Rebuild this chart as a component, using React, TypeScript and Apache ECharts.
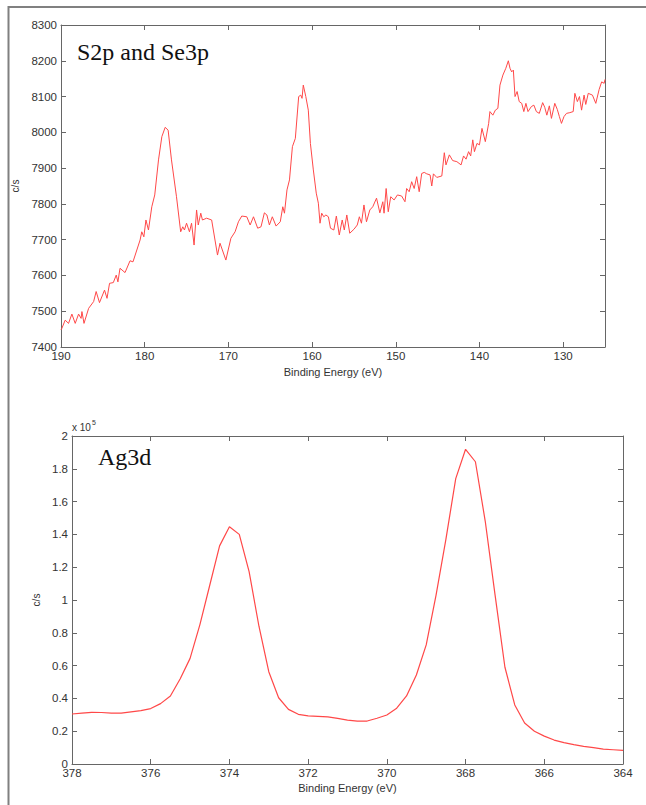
import React, { useEffect, useRef } from "react";
import * as echarts from "echarts";

// Top panel: S2p and Se3p (binding energy eV, counts/s)
const topEnergy = [
  190.0, 189.9, 189.5, 189.1, 188.7, 188.3, 187.9, 187.6, 187.5, 187.25, 186.7, 186.1, 185.8, 185.4,
  184.8, 184.5, 184.2, 183.75, 183.4, 183.2, 182.95, 182.35, 181.75, 181.4, 180.55, 180.35, 180.1,
  179.85, 179.55, 179.15, 178.8, 178.35, 177.95, 177.55, 177.2, 176.8, 176.2, 175.7, 175.45, 175.25,
  175.0, 174.65, 174.4, 174.1, 173.8, 173.6, 173.3, 173.1, 172.6, 172.0, 171.3, 171.0, 170.3, 169.7,
  169.2, 168.8, 168.4, 167.8, 167.4, 167.0, 166.5, 166.1, 165.7, 165.4, 165.1, 164.75, 164.3, 163.8,
  163.5, 163.3, 163.0, 162.7, 162.35, 162.0, 161.6, 161.35, 161.2, 161.05, 160.75, 160.45, 160.2,
  159.85, 159.5, 159.25, 159.05, 158.85, 158.6, 158.35, 158.05, 157.8, 157.4, 157.1, 156.75, 156.4,
  156.15, 155.85, 155.5, 155.0, 154.6, 154.35, 154.1, 153.8, 153.5, 153.1, 152.75, 152.3, 151.9,
  151.55, 151.4, 151.15, 150.9, 150.6, 150.2, 149.8, 149.3, 148.9, 148.7, 148.4, 148.1, 147.8, 147.5,
  147.2, 146.9, 146.6, 146.3, 145.9, 145.7, 145.5, 145.1, 144.5, 144.2, 144.0, 143.6, 143.2, 142.7,
  142.2, 141.9, 141.6, 141.3, 141.05, 140.8, 140.6, 140.3, 140.0, 139.7, 139.3, 138.9, 138.75, 138.4,
  138.1, 137.8, 137.55, 137.2, 136.85, 136.55, 136.35, 136.15, 135.95, 135.75, 135.5, 135.25, 134.95,
  134.7, 134.45, 134.2, 133.8, 133.5, 133.2, 132.85, 132.45, 132.2, 131.95, 131.65, 131.4, 131.0,
  130.7, 130.45, 130.2, 129.9, 129.6, 129.2, 128.8, 128.6, 128.3, 128.05, 127.8, 127.5, 127.3, 127.0,
  126.5, 126.1, 125.7, 125.4, 125.1, 125.0,
];
const topCounts = [
  7448, 7452, 7475, 7466, 7492, 7466, 7492, 7480, 7499, 7466, 7508, 7527, 7555, 7524,
  7559, 7536, 7578, 7580, 7601, 7582, 7620, 7608, 7641, 7638, 7699, 7722, 7708,
  7755, 7727, 7792, 7825, 7923, 7988, 8014, 8006, 7923, 7820, 7722, 7736, 7727,
  7746, 7722, 7746, 7685, 7783, 7741, 7774, 7755, 7760, 7755, 7657, 7690, 7643, 7704,
  7722, 7750, 7766, 7764, 7741, 7764, 7732, 7736, 7775, 7769, 7741, 7764, 7738, 7750,
  7792, 7774, 7839, 7867, 7960, 7983, 8100, 8104, 8095, 8132, 8100, 8062, 7969,
  7895, 7830, 7802, 7746, 7774, 7764, 7769, 7764, 7732, 7727, 7766, 7713, 7755,
  7727, 7769, 7718, 7729, 7741, 7764, 7746, 7797, 7750, 7783, 7792, 7816, 7775,
  7806, 7774, 7843, 7778, 7820, 7811, 7825, 7822, 7806, 7843, 7834, 7862, 7843, 7876,
  7834, 7885, 7888, 7884, 7881, 7850, 7884, 7874, 7878, 7943, 7909, 7937, 7921, 7918,
  7909, 7934, 7925, 7946, 7934, 7979, 7946, 7969, 7965, 8011, 7974, 8025, 8058, 8048,
  8062, 8067, 8132, 8160, 8179, 8200, 8179, 8169, 8174, 8100, 8114, 8086, 8081,
  8058, 8081, 8058, 8072, 8076, 8058, 8053, 8083, 8070, 8048, 8074, 8039, 8081,
  8064, 8044, 8025, 8044, 8053, 8055, 8058, 8109, 8086, 8100, 8062, 8104, 8078, 8109,
  8104, 8081, 8120, 8141, 8137, 8148,
];

// Bottom panel: Ag3d (binding energy eV, counts/s)
const botEnergy = [
  378, 377.75, 377.5, 377.25, 377, 376.75, 376.5, 376.25, 376, 375.75, 375.5, 375.25, 375, 374.75,
  374.5, 374.25, 374, 373.75, 373.5, 373.25, 373, 372.75, 372.5, 372.25, 372, 371.75, 371.5, 371.25,
  371, 370.75, 370.5, 370.25, 370, 369.75, 369.5, 369.25, 369, 368.75, 368.5, 368.25, 368, 367.75,
  367.5, 367.25, 367, 366.75, 366.5, 366.25, 366, 365.75, 365.5, 365.25, 365, 364.75, 364.5, 364.25,
  364,
];
const botCounts = [
  30500, 31000, 31500, 31400, 31000, 31000, 31800, 32500, 33800, 36800, 41500, 52000, 64400, 85000,
  109000, 133000, 144700, 140000, 117300, 84000, 56300, 40400, 33300, 30300, 29300, 29000, 28700, 27800,
  26800, 26200, 26200, 27900, 29900, 34000, 41500, 54300, 72600, 103000, 137000, 174000, 191900, 184300,
  148000, 103000, 59000, 36000, 25000, 20000, 17000, 14600, 13000, 11800, 10800, 10000, 9100, 8700,
  8300,
];

const topXTicks = { min: -190, max: -125, interval: 10 };
const topYTicks = { min: 7400, max: 8300, interval: 100 };
const botXTicks = { min: -378, max: -364, interval: 2 };
const botYTicks = { min: 0, max: 200000, interval: 20000 };

const AXIS_COLOR = "#666";
const LABEL_COLOR = "#333";
const SANS = "'Liberation Sans', Arial, Helvetica, sans-serif";
const SERIF = "'Liberation Serif', 'Times New Roman', serif";
const LINE_COLOR = "#ff4848";

function mainX(gridIndex: number, t: any, nameGap: number, showMax: boolean) {
  return {
    type: "value",
    gridIndex,
    position: "bottom",
    min: t.min,
    max: t.max,
    interval: t.interval,
    name: "Binding Energy (eV)",
    nameLocation: "middle",
    nameGap,
    nameTextStyle: { color: LABEL_COLOR, fontSize: 11, fontFamily: SANS },
    axisLine: { show: true, lineStyle: { color: AXIS_COLOR, width: 1 } },
    axisTick: { show: true, inside: true, length: 5, lineStyle: { color: AXIS_COLOR } },
    axisLabel: {
      color: LABEL_COLOR,
      fontSize: 11.5,
      fontFamily: SANS,
      margin: 3,
      showMaxLabel: showMax,
      formatter: (v: number) => (Math.round(-v) % t.interval === 0 ? String(Math.round(-v)) : ""),
    },
    splitLine: { show: false },
  };
}
function mirrorX(gridIndex: number, t: any) {
  return {
    type: "value",
    gridIndex,
    position: "top",
    min: t.min,
    max: t.max,
    interval: t.interval,
    axisLine: { show: true, onZero: false, lineStyle: { color: AXIS_COLOR, width: 1 } },
    axisTick: { show: true, inside: true, length: 5, lineStyle: { color: AXIS_COLOR } },
    axisLabel: { show: false },
    splitLine: { show: false },
  };
}
function mainY(gridIndex: number, t: any, nameGap: number, fmt: (v: number) => string) {
  return {
    type: "value",
    gridIndex,
    position: "left",
    min: t.min,
    max: t.max,
    interval: t.interval,
    name: "c/s",
    nameLocation: "middle",
    nameGap,
    nameRotate: 90,
    nameTextStyle: { color: LABEL_COLOR, fontSize: 10, fontFamily: SANS },
    axisLine: { show: true, onZero: false, lineStyle: { color: AXIS_COLOR, width: 1 } },
    axisTick: { show: true, inside: true, length: 5, lineStyle: { color: AXIS_COLOR } },
    axisLabel: { color: LABEL_COLOR, fontSize: 11.5, fontFamily: SANS, margin: 4, formatter: fmt },
    splitLine: { show: false },
  };
}
function mirrorY(gridIndex: number, t: any) {
  return {
    type: "value",
    gridIndex,
    position: "right",
    min: t.min,
    max: t.max,
    interval: t.interval,
    axisLine: { show: true, onZero: false, lineStyle: { color: AXIS_COLOR, width: 1 } },
    axisTick: { show: true, inside: true, length: 5, lineStyle: { color: AXIS_COLOR } },
    axisLabel: { show: false },
    splitLine: { show: false },
  };
}

export default function App() {
  const ref = useRef<HTMLDivElement>(null);
  useEffect(() => {
    document.body.style.margin = "0";
    if (!ref.current) return;
    const chart = echarts.init(ref.current, undefined, { renderer: "svg" });
    const topData = topEnergy.map((e, i) => [-e, topCounts[i]]);
    const botData = botEnergy.map((e, i) => [-e, botCounts[i]]);
    chart.setOption({
      animation: false,
      backgroundColor: "#ffffff",
      grid: [
        { left: 61, top: 25, width: 544, height: 322 },
        { left: 72, top: 436, width: 551, height: 328 },
      ],
      xAxis: [
        mainX(0, topXTicks, 19, false),
        mirrorX(0, topXTicks),
        mainX(1, botXTicks, 18, true),
        mirrorX(1, botXTicks),
      ],
      yAxis: [
        mainY(0, topYTicks, 38, (v: number) => String(v)),
        mirrorY(0, topYTicks),
        mainY(1, botYTicks, 27, (v: number) => String(parseFloat((v / 1e5).toFixed(1)))),
        mirrorY(1, botYTicks),
      ],
      series: [
        {
          type: "line",
          xAxisIndex: 0,
          yAxisIndex: 0,
          data: topData,
          showSymbol: false,
          symbol: "none",
          lineStyle: { color: LINE_COLOR, width: 1 },
        },
        {
          type: "line",
          xAxisIndex: 2,
          yAxisIndex: 2,
          data: botData,
          showSymbol: false,
          symbol: "none",
          lineStyle: { color: LINE_COLOR, width: 1.2 },
        },
      ],
      graphic: [
        { type: "line", shape: { x1: 8, y1: 7, x2: 646, y2: 7 }, style: { stroke: "#808080", lineWidth: 2 } },
        { type: "line", shape: { x1: 8.5, y1: 6, x2: 8.5, y2: 805 }, style: { stroke: "#808080", lineWidth: 2 } },
        {
          type: "text",
          left: 77,
          top: 40,
          style: { text: "S2p and Se3p", fontSize: 24, fontFamily: SERIF, fill: "#111" },
        },
        {
          type: "text",
          left: 98,
          top: 445,
          style: { text: "Ag3d", fontSize: 24, fontFamily: SERIF, fill: "#111" },
        },
        {
          type: "text",
          left: 72,
          top: 419,
          style: {
            text: "{a|x 10}{b|5}",
            rich: {
              a: { fontSize: 10, fontFamily: SANS, fill: LABEL_COLOR, verticalAlign: "bottom" },
              b: { fontSize: 7, fontFamily: SANS, fill: LABEL_COLOR, verticalAlign: "top", padding: [0, 0, 6, 1] },
            },
          },
        },
      ],
    });
    return () => chart.dispose();
  }, []);
  return <div ref={ref} style={{ width: 646, height: 805 }} />;
}
